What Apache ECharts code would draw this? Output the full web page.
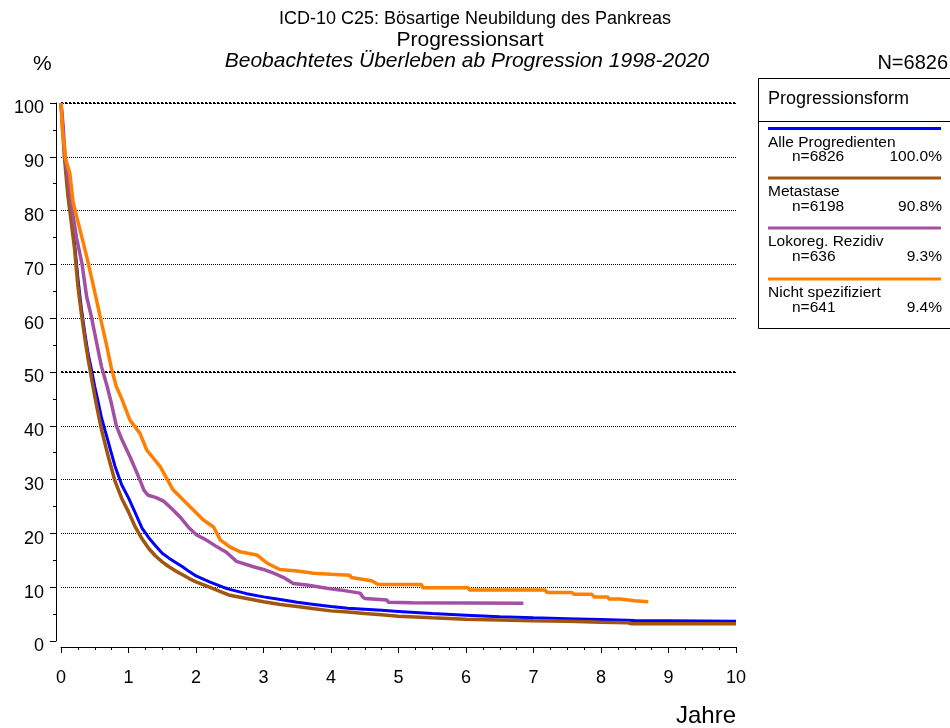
<!DOCTYPE html>
<html><head><meta charset="utf-8">
<script src="https://cdn.jsdelivr.net/npm/echarts@6/dist/echarts.min.js"></script>
<style>html,body{margin:0;padding:0;background:#fff}#c{width:950px;height:728px}</style>
</head><body><div id="c"></div>
<script>
// ---- data (years, % survival) ----
const alleProgredienten = [[0,100],[0.05,91],[0.1,84],[0.15,79],[0.2,74],[0.25,67.5],[0.3,62],[0.35,57.5],[0.4,53.5],[0.45,50.5],[0.5,47.3],[0.55,44.5],[0.6,41.5],[0.7,37],[0.8,32.5],[0.9,29],[1.0,26.6],[1.1,23.8],[1.2,21],[1.3,19.2],[1.4,17.7],[1.5,16.3],[1.6,15.4],[1.7,14.6],[1.8,13.8],[1.9,12.9],[2.0,12.1],[2.2,11],[2.4,10],[2.5,9.6],[2.75,8.8],[3.0,8.2],[3.25,7.7],[3.5,7.2],[3.75,6.8],[4.0,6.4],[4.25,6.1],[4.5,5.9],[4.75,5.7],[5.0,5.5],[5.5,5.1],[6.0,4.8],[6.5,4.5],[7.0,4.3],[7.5,4.15],[8.0,4.0],[8.5,3.8],[9.0,3.75],[9.5,3.7],[10.0,3.65]];
const metastase = [[0,100],[0.05,90],[0.1,83],[0.15,78],[0.2,73],[0.25,66],[0.3,61],[0.35,56.5],[0.4,52.5],[0.45,49],[0.5,45.5],[0.55,42.3],[0.6,39.3],[0.7,34.3],[0.8,29.7],[0.9,26.5],[1.0,24],[1.1,21.2],[1.2,19],[1.3,17.2],[1.4,15.8],[1.5,14.7],[1.6,13.8],[1.7,13],[1.8,12.3],[1.9,11.6],[2.0,11.0],[2.2,10],[2.4,9],[2.5,8.5],[2.75,7.9],[3.0,7.3],[3.25,6.8],[3.5,6.4],[3.75,6.0],[4.0,5.6],[4.25,5.4],[4.5,5.1],[4.75,4.9],[5.0,4.6],[5.5,4.3],[6.0,4.05],[6.5,3.9],[7.0,3.75],[7.5,3.65],[8.0,3.5],[8.4,3.4],[8.45,3.2],[10.0,3.2]];
const lokoregRezidiv = [[0,100],[0.03,96],[0.06,90],[0.13,84],[0.18,79],[0.23,75],[0.31,70.2],[0.38,64],[0.45,60.3],[0.53,55.3],[0.6,51],[0.68,47.5],[0.75,44],[0.82,40],[0.9,37.5],[1.02,34.3],[1.1,32],[1.17,29.9],[1.23,28],[1.29,27.1],[1.4,26.7],[1.52,26.0],[1.65,24.5],[1.76,23.1],[1.9,21],[2.01,19.7],[2.15,18.8],[2.31,17.5],[2.45,16.5],[2.6,14.8],[2.85,13.8],[3.0,13.3],[3.15,12.6],[3.3,11.8],[3.44,10.7],[3.64,10.4],[3.94,9.8],[4.13,9.5],[4.43,8.9],[4.47,8.2],[4.5,7.9],[4.83,7.6],[4.85,7.2],[5.2,7.1],[5.22,7.0],[6.85,7.0]];
const nichtSpezifiziert = [[0,100],[0.02,95],[0.07,89.5],[0.13,87],[0.18,81.5],[0.28,76.5],[0.38,71.5],[0.48,66],[0.58,60.3],[0.68,54.7],[0.75,50.5],[0.82,47.3],[0.9,45],[1.02,41.1],[1.17,38.6],[1.27,35.5],[1.47,32.4],[1.66,28.1],[1.86,25.6],[2.11,22.5],[2.26,21.2],[2.36,18.8],[2.5,17.5],[2.65,16.6],[2.9,16.0],[3.05,14.5],[3.24,13.3],[3.5,13.0],[3.74,12.6],[4.0,12.4],[4.28,12.2],[4.3,11.8],[4.6,11.2],[4.7,10.5],[5.34,10.5],[5.36,9.9],[6.03,9.9],[6.05,9.5],[7.17,9.5],[7.2,9.0],[7.57,9.0],[7.6,8.7],[7.86,8.7],[7.9,8.2],[8.1,8.2],[8.12,7.8],[8.28,7.8],[8.3,7.5],[8.5,7.5],[8.52,7.3],[8.7,7.3]];

const seriesNames = ['Alle Progredienten','Metastase','Lokoreg. Rezidiv','Nicht spezifiziert'];
const seriesCounts = ['n=6826','n=6198','n=636','n=641'];
const seriesShares = ['100.0%','90.8%','9.3%','9.4%'];
const seriesColors = ['#0000FF','#A0560F','#A34FA3','#FF8000'];
const xTicks = [0,1,2,3,4,5,6,7,8,9,10];
const yTicks = [0,10,20,30,40,50,60,70,80,90,100];

const FONT = '"Liberation Sans", Arial, sans-serif';
const chart = echarts.init(document.getElementById('c'), null, {renderer:'canvas'});

function legendGraphics(){
  const g = [];
  g.push({type:'rect', shape:{x:758.5,y:78.5,width:200,height:250}, style:{fill:'#fff',stroke:'#000',lineWidth:1}, z:10});
  g.push({type:'line', shape:{x1:758,y1:121.5,x2:950,y2:121.5}, style:{stroke:'#000',lineWidth:1}, z:11});
  g.push({type:'text', x:768, y:99, style:{text:'Progressionsform', font:'18px '+FONT, fill:'#000', textVerticalAlign:'middle'}, z:11});
  const lineY = [128.5,178,228,279];
  for (let i=0;i<4;i++){
    const y0 = lineY[i];
    g.push({type:'line', shape:{x1:768,y1:y0,x2:941,y2:y0}, style:{stroke:seriesColors[i],lineWidth:3}, z:11});
    g.push({type:'text', x:768, y:y0+14, style:{text:seriesNames[i], font:'15.5px '+FONT, fill:'#000', textVerticalAlign:'middle'}, z:11});
    g.push({type:'text', x:792, y:y0+28.5, style:{text:seriesCounts[i], font:'15.5px '+FONT, fill:'#000', textVerticalAlign:'middle'}, z:11});
    g.push({type:'text', x:942, y:y0+28.5, style:{text:seriesShares[i], font:'15.5px '+FONT, fill:'#000', textAlign:'right', textVerticalAlign:'middle'}, z:11});
  }
  return g;
}

const option = {
  animation:false,
  backgroundColor:'#fff',
  grid:{left:61, right:214, top:103, bottom:87, containLabel:false},
  xAxis:{
    type:'value', min:0, max:10, interval:1, offset:6,
    axisLine:{show:true, onZero:false, lineStyle:{color:'#000',width:1}},
    axisTick:{show:true, length:6, lineStyle:{color:'#000'}},
    minorTick:{show:true, splitNumber:4, length:3, lineStyle:{color:'#000'}},
    axisLabel:{color:'#000', fontSize:18, fontFamily:FONT, margin:22, customValues: xTicks},
    splitLine:{show:false}
  },
  yAxis:{
    type:'value', min:0, max:100, interval:10, offset:5,
    axisLine:{show:true, onZero:false, lineStyle:{color:'#000',width:1}},
    axisTick:{show:true, length:6, lineStyle:{color:'#000'}},
    minorTick:{show:true, splitNumber:2, length:3, lineStyle:{color:'#000'}},
    axisLabel:{color:'#000', fontSize:18, fontFamily:FONT, margin:12, verticalAlign:'top', lineHeight:11, customValues: yTicks},
    splitLine:{show:true, showMinLine:false, lineStyle:{color:'#000', type:'dotted', width:1}}
  },
  graphic: [
    {type:'text', x:475, y:19, style:{text:'ICD-10 C25: Bösartige Neubildung des Pankreas', font:'18px '+FONT, fill:'#000', textAlign:'center', textVerticalAlign:'middle'}},
    {type:'text', x:470, y:40.5, style:{text:'Progressionsart', font:'21px '+FONT, fill:'#000', textAlign:'center', textVerticalAlign:'middle'}},
    {type:'text', x:467, y:61, style:{text:'Beobachtetes Überleben ab Progression 1998-2020', font:'italic 21px '+FONT, fill:'#000', textAlign:'center', textVerticalAlign:'middle'}},
    {type:'text', x:33, y:64, style:{text:'%', font:'21px '+FONT, fill:'#000', textVerticalAlign:'middle'}},
    {type:'text', x:948, y:63, style:{text:'N=6826', font:'20px '+FONT, fill:'#000', textAlign:'right', textVerticalAlign:'middle'}},
    {type:'text', x:736, y:716, style:{text:'Jahre', font:'24px '+FONT, fill:'#000', textAlign:'right', textVerticalAlign:'middle'}}
  ].concat(legendGraphics()),
  series: [
    {name:seriesNames[0], type:'line', data:alleProgredienten, showSymbol:false, symbol:'none', lineStyle:{color:seriesColors[0], width:3}, z:2,
      markLine:{silent:true, symbol:['none','none'], label:{show:false}, lineStyle:{color:'#000', type:'dotted', width:2}, data:[{yAxis:50},{yAxis:100}], z:1}},
    {name:seriesNames[1], type:'line', data:metastase, showSymbol:false, symbol:'none', lineStyle:{color:seriesColors[1], width:3.5}, z:3},
    {name:seriesNames[2], type:'line', data:lokoregRezidiv, showSymbol:false, symbol:'none', lineStyle:{color:seriesColors[2], width:3.5}, z:4},
    {name:seriesNames[3], type:'line', data:nichtSpezifiziert, showSymbol:false, symbol:'none', lineStyle:{color:seriesColors[3], width:3.5}, z:5}
  ]
};
chart.setOption(option);
</script>
</body></html>
